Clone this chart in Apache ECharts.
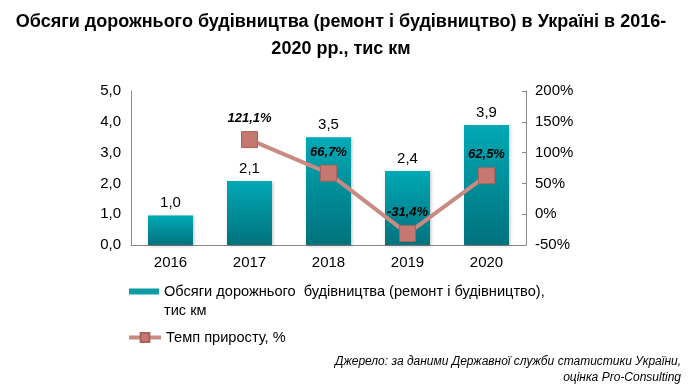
<!DOCTYPE html>
<html>
<head>
<meta charset="utf-8">
<script src="https://cdn.jsdelivr.net/npm/echarts@6/dist/echarts.min.js"></script>
<style>html,body{margin:0;padding:0;background:#fff}#c{width:691px;height:391px}</style>
</head>
<body>
<div id="c"></div>
<script>
var years = ['2016', '2017', '2018', '2019', '2020'];
var volume = [0.96, 2.08, 3.5, 2.4, 3.9];
var volumeLabels = ['1,0', '2,1', '3,5', '2,4', '3,9'];
var growth = [null, 121.1, 66.7, -31.4, 62.5];
var growthLabels = ['', '121,1%', '66,7%', '-31,4%', '62,5%'];
var leftTicks = { min: 0, max: 5, interval: 1 };
var rightTicks = { min: -50, max: 200, interval: 50 };
var barName = 'Обсяги дорожнього  будівництва (ремонт і будівництво),\nтис км';
var lineName = 'Темп приросту, %';

var font = 'Liberation Sans, Arial, sans-serif';
var chart = echarts.init(document.getElementById('c'));
chart.setOption({
  animation: false,
  textStyle: { fontFamily: font },
  title: [{
    text: 'Обсяги дорожнього будівництва (ремонт і будівництво) в Україні в 2016-\n2020 рр., тис км',
    left: 336, top: 4, textAlign: 'center',
    textStyle: { fontFamily: font, fontSize: 18, fontWeight: 'bold', color: '#000', lineHeight: 27 }
  }],
  graphic: [{
    type: 'text', x: 681, y: 354,
    style: {
      text: 'Джерело: за даними Державної служби статистики України,\nоцінка Pro-Consulting',
      align: 'right', verticalAlign: 'top', fill: '#000',
      font: 'italic 12px Liberation Sans, Arial, sans-serif', lineHeight: 16
    }
  }, {
    type: 'text', x: 164, y: 303,
    style: {
      text: barName.split('\n')[1], fill: '#000', verticalAlign: 'top',
      font: '14.6px Liberation Sans, Arial, sans-serif'
    }
  }],
  grid: { left: 131, right: 165, top: 91, bottom: 146 },
  legend: [{
    orient: 'vertical', left: 129, top: 284, padding: 0,
    textStyle: { fontFamily: font, fontSize: 14.6, color: '#000' },
    formatter: function (n) { return n.split('\n')[0]; },
    data: [{ name: barName, icon: 'rect', itemStyle: { color: '#0d9aa5' } }],
    itemWidth: 30, itemHeight: 6
  }, {
    orient: 'vertical', left: 127, top: 330, padding: 0,
    textStyle: { fontFamily: font, fontSize: 14.6, color: '#000' },
    data: [{ name: lineName, lineStyle: { width: 4, color: '#c98a82' } }],
    itemWidth: 32, itemHeight: 11
  }],
  xAxis: {
    type: 'category', data: years,
    axisLine: { lineStyle: { color: '#888' } },
    axisTick: { show: false },
    axisLabel: { color: '#000', fontSize: 15, margin: 10 }
  },
  yAxis: [{
    type: 'value', min: leftTicks.min, max: leftTicks.max, interval: leftTicks.interval,
    splitLine: { show: false },
    axisLine: { show: true, lineStyle: { color: '#888' } },
    axisTick: { show: false },
    axisLabel: { color: '#000', fontSize: 15, margin: 10, formatter: function (v) { return v.toFixed(1).replace('.', ','); } }
  }, {
    type: 'value', min: rightTicks.min, max: rightTicks.max, interval: rightTicks.interval,
    splitLine: { show: false },
    axisLine: { show: true, lineStyle: { color: '#888' } },
    axisTick: { show: true, inside: true, length: 4, lineStyle: { color: '#888' } },
    axisLabel: { color: '#000', fontSize: 15, margin: 9, formatter: function (v) { return v + '%'; } }
  }],
  series: [{
    name: barName, type: 'bar', data: volume, barWidth: 45,
    itemStyle: {
      color: new echarts.graphic.LinearGradient(0, 0, 0, 1, [
        { offset: 0, color: '#00a9b6' }, { offset: 1, color: '#00727c' }
      ]),
      shadowColor: 'rgba(0,0,0,0.25)', shadowBlur: 3, shadowOffsetX: 1, shadowOffsetY: 1
    },
    label: { show: true, position: 'top', distance: 5, color: '#000', fontSize: 15,
      formatter: function (p) { return volumeLabels[p.dataIndex]; } }
  }, {
    name: lineName, type: 'line', yAxisIndex: 1, data: growth,
    symbol: 'rect', symbolSize: 16,
    lineStyle: { color: '#c98a82', width: 4 },
    itemStyle: { color: '#c4786f', borderColor: '#a9635b', borderWidth: 1 },
    label: { show: true, position: 'top', distance: 6, color: '#000', fontSize: 13,
      fontWeight: 'bold', fontStyle: 'italic',
      formatter: function (p) { return growthLabels[p.dataIndex]; } }
  }]
});
</script>
</body>
</html>
